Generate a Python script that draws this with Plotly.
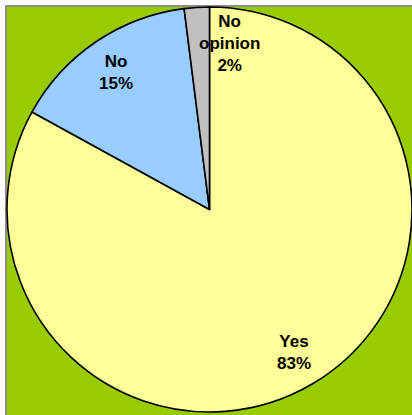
import math
import plotly.graph_objects as go

# Survey answers, clockwise from 12 o'clock
answers = ["Yes", "No", "No opinion"]
shares = [83, 15, 2]
label_lines = ["Yes", "No", "No<br>opinion"]

slice_colors = ["#FFFF99", "#99CCFF", "#C0C0C0"]
frame_green = "#99CC00"
frame_gray = "#8C8C8C"

W, H = 412, 415
ML, MT = 7, 7
plot_w, plot_h = W - ML, H - MT
dom_y0 = (plot_h - plot_w) / plot_h  # keep the pie square and hugging the top edge

fig = go.Figure()
fig.add_trace(go.Pie(
    labels=answers,
    values=shares,
    sort=False,
    direction="clockwise",
    rotation=0,
    marker=dict(colors=slice_colors, line=dict(color="black", width=1.6)),
    textinfo="none",
    hoverinfo="label+percent",
    showlegend=False,
    domain=dict(x=[0, 1], y=[dom_y0, 1]),
))

# Labels sit on each slice's middle angle, at ~82% of the radius
total = sum(shares)
radius_px = plot_w / 2
cx_px = plot_w / 2
cy_px = plot_w / 2
extra_shift = {"No opinion": 30}
annotations = []
cum = 0
for name, val, head in zip(answers, shares, label_lines):
    mid = (cum + val / 2) / total * 2 * math.pi
    cum += val
    px = cx_px + 0.82 * radius_px * math.sin(mid)
    py = cy_px - 0.82 * radius_px * math.cos(mid)
    pct = round(val / total * 100)
    annotations.append(dict(
        x=px / plot_w, y=1 - py / plot_h, xref="paper", yref="paper",
        text=f"<b>{head}<br>{pct}%</b>", showarrow=False,
        xanchor="center", yanchor="middle", align="center",
        xshift=extra_shift.get(name, 0),
        font=dict(family="Arial, Liberation Sans, sans-serif", size=17, color="black"),
    ))

fig.update_layout(
    width=W, height=H,
    margin=dict(l=ML, r=0, t=MT, b=0, pad=0),
    paper_bgcolor="white",
    annotations=annotations,
    shapes=[dict(
        type="rect", xref="paper", yref="paper", layer="below",
        x0=-1 / plot_w, x1=1.05, y0=-0.05, y1=1 + 1 / plot_h,
        fillcolor=frame_green, line=dict(color=frame_gray, width=2),
    )],
)

fig.write_html("out.html")
